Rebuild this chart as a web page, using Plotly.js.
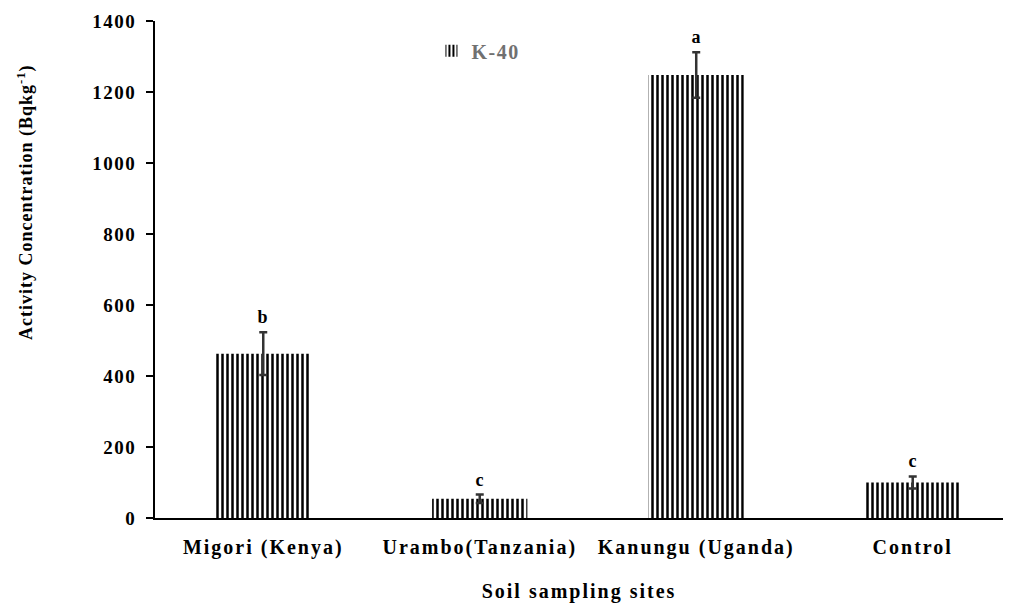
<!DOCTYPE html>
<html>
<head>
<meta charset="utf-8">
<script src="https://cdn.plot.ly/plotly-3.0.1.min.js"></script>
<style>
  html, body { margin: 0; padding: 0; background: #ffffff; }
  #chart { width: 1010px; height: 606px; }
  /* wide-set lettering for the axis and legend texts */
  #chart .xtick text { letter-spacing: 2px; }
  #chart .ytick text { letter-spacing: 1.5px; }
  #chart .g-xtitle text { letter-spacing: 2px; }
  #chart .legendtext { letter-spacing: 1.5px; }
  #chart .annotation-text { letter-spacing: 1px; }
</style>
</head>
<body>
<div id="chart"></div>
<script>
// K-40 activity concentration in soil by sampling site
var sites = ['Migori (Kenya)', 'Urambo(Tanzania)', 'Kanungu (Uganda)', 'Control'];
var k40 = [463, 54, 1248, 100];
var k40Err = [60, 12, 64, 17];
var groupLetters = ['b', 'c', 'a', 'c'];
var yTicks = [0, 200, 400, 600, 800, 1000, 1200, 1400];
var yTitle = 'Activity Concentration (Bqkg<sup>-1</sup>)';

var serif = 'Liberation Serif, Times New Roman, serif';

var trace = {
  type: 'bar',
  name: 'K-40',
  x: sites,
  y: k40,
  width: 0.44,
  marker: {
    color: '#ffffff',
    line: { width: 0 },
    pattern: { shape: '|', fgcolor: '#000000', bgcolor: '#ffffff', size: 5, solidity: 0.5 }
  },
  error_y: {
    type: 'data',
    array: k40Err,
    visible: true,
    color: '#333333',
    thickness: 2.5,
    width: 4
  },
  hoverinfo: 'x+y'
};

// significance letters sit just above each error bar
var annotations = sites.map(function (s, i) {
  return {
    x: s,
    y: k40[i] + k40Err[i],
    xref: 'x',
    yref: 'y',
    text: '<b>' + groupLetters[i] + '</b>',
    showarrow: false,
    yanchor: 'bottom',
    yshift: 3,
    font: { family: serif, size: 18, color: '#000000' }
  };
});

// vertical y-axis title, set a little above the axis middle
annotations.push({
  x: -0.152,
  y: 0.635,
  xref: 'paper',
  yref: 'paper',
  xanchor: 'center',
  yanchor: 'middle',
  textangle: -90,
  text: '<b>' + yTitle + '</b>',
  showarrow: false,
  font: { family: serif, size: 18, color: '#000000' }
});

var layout = {
  width: 1010,
  height: 606,
  margin: { l: 155, r: 7, t: 21, b: 88 },
  paper_bgcolor: '#ffffff',
  plot_bgcolor: '#ffffff',
  bargap: 0.5,
  showlegend: true,
  legend: {
    x: 0.326,
    y: 0.94,
    xanchor: 'left',
    yanchor: 'middle',
    bgcolor: 'rgba(0,0,0,0)',
    itemwidth: 30,
    font: { family: serif, size: 20, color: '#707070', weight: 'bold' }
  },
  xaxis: {
    type: 'category',
    range: [-0.5, 3.417],
    showline: true,
    linecolor: '#000000',
    linewidth: 2,
    ticks: 'outside',
    ticklen: 10,
    tickcolor: 'rgba(0,0,0,0)',
    showgrid: false,
    zeroline: false,
    tickfont: { family: serif, size: 20, color: '#000000', weight: 'bold' },
    title: {
      text: '<b>Soil sampling sites</b>',
      font: { family: serif, size: 20, color: '#000000' },
      standoff: 26
    }
  },
  yaxis: {
    range: [0, 1400],
    tickvals: yTicks,
    ticktext: yTicks.map(String),
    showline: true,
    linecolor: '#000000',
    linewidth: 2,
    ticks: 'outside',
    ticklen: 7,
    tickwidth: 2,
    tickcolor: '#000000',
    ticklabelstandoff: 6,
    showgrid: false,
    zeroline: false,
    tickfont: { family: serif, size: 19, color: '#000000', weight: 'bold' }
  },
  annotations: annotations
};

Plotly.newPlot('chart', [trace], layout, { displayModeBar: false, staticPlot: true });
</script>
</body>
</html>
